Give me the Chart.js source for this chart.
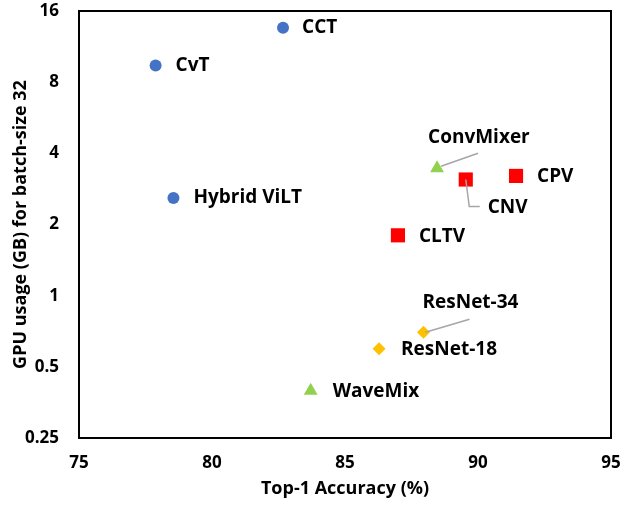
<!DOCTYPE html>
<html>
<head>
<meta charset="utf-8">
<script src="https://cdn.jsdelivr.net/npm/chart.js@4/dist/chart.umd.min.js"></script>
<style>
  body { margin: 0; background: #fff; }
  #wrap { width: 621px; height: 513px; }
</style>
</head>
<body>
<div id="wrap"><canvas id="gpu-chart"></canvas></div>
<script>
// models, accuracy (%) and GPU memory (GB)
var models   = ["CCT", "CvT", "Hybrid ViLT", "ConvMixer", "CNV", "CPV", "CLTV", "ResNet-34", "ResNet-18", "WaveMix"];
var accuracy = [82.67, 77.88, 78.55, 88.46, 89.54, 91.43, 86.99, 87.95, 86.28, 83.71];
var gpuMem   = [13.6, 9.4, 2.59, 3.46, 3.1, 3.21, 1.8, 0.70, 0.596, 0.396];
var family   = ["vit", "vit", "vit", "mixer", "ours", "ours", "ours", "cnn", "cnn", "mixer"];
var xTicks   = [75, 80, 85, 90, 95];
var yTicks   = [0.25, 0.5, 1, 2, 4, 8, 16];

var FONT = "'Open Sans', Lato, sans-serif";

// marker look per family
var styles = {
    vit:   { color: "#4472C4", shape: "circle",   r: 6 },
    ours:  { color: "#FF0000", shape: "rect",     r: 10 },
    mixer: { color: "#92D050", shape: "triangle", r: 8 },
    cnn:   { color: "#FFC000", shape: "rectRot",  r: 6.5 }
};

// label placement relative to the marker (px), with optional leader line
var labelPos = {
    "CCT":         { dx: 19, dy: 0 },
    "CvT":         { dx: 20, dy: 0 },
    "Hybrid ViLT": { dx: 20, dy: 0 },
    "ConvMixer":   { dx: -9, dy: -31, line: [[41, -15], [4, -2]] },
    "CNV":         { dx: 22, dy: 28, line: [[0, 0], [3.5, 27], [14, 27]] },
    "CPV":         { dx: 21, dy: 1 },
    "CLTV":        { dx: 21, dy: 1 },
    "ResNet-34":   { dx: -1, dy: -30, line: [[46, -13], [2, 0]] },
    "ResNet-18":   { dx: 22, dy: 1 },
    "WaveMix":     { dx: 22, dy: 1 }
};

var datasets = [];
["vit", "ours", "mixer", "cnn"].forEach(function(key) {
    var pts = [];
    models.forEach(function(m, i) {
        if (family[i] === key) pts.push({ x: accuracy[i], y: gpuMem[i], name: m });
    });
    var s = styles[key];
    datasets.push({
        data: pts,
        pointStyle: s.shape,
        pointRadius: s.r,
        pointBackgroundColor: s.color,
        pointBorderColor: s.color,
        pointBorderWidth: 0
    });
});

var labelPlugin = {
    id: "labels",
    afterDatasetsDraw: function(chart) {
        var ctx = chart.ctx;
        var a = chart.chartArea;
        ctx.save();
        ctx.strokeStyle = "#000";
        ctx.lineWidth = 2;
        ctx.strokeRect(a.left, a.top, a.right - a.left, a.bottom - a.top);

        chart.data.datasets.forEach(function(ds, di) {
            var meta = chart.getDatasetMeta(di);
            ds.data.forEach(function(p, j) {
                var el = meta.data[j];
                var pos = labelPos[p.name];
                if (pos.line) {
                    ctx.beginPath();
                    ctx.strokeStyle = "#A6A6A6";
                    ctx.lineWidth = 1.5;
                    pos.line.forEach(function(q, k) {
                        if (k === 0) ctx.moveTo(el.x + q[0], el.y + q[1]);
                        else ctx.lineTo(el.x + q[0], el.y + q[1]);
                    });
                    ctx.stroke();
                }
                ctx.fillStyle = "#000";
                ctx.font = "bold 19px " + FONT;
                ctx.textAlign = "left";
                ctx.textBaseline = "middle";
                ctx.fillText(p.name, el.x + pos.dx, el.y + pos.dy);
            });
        });
        ctx.restore();
    }
};

new Chart(document.getElementById("gpu-chart"), {
    type: "scatter",
    data: { datasets: datasets },
    plugins: [labelPlugin],
    options: {
        responsive: true,
        maintainAspectRatio: false,
        animation: false,
        layout: { padding: { top: 11, right: 10, left: 0, bottom: 0 } },
        plugins: { legend: { display: false }, tooltip: { enabled: false } },
        scales: {
            x: {
                type: "linear",
                min: 75,
                max: 95,
                afterBuildTicks: function(scale) {
                    scale.ticks = xTicks.map(function(v) { return { value: v }; });
                },
                afterFit: function(scale) {
                    scale.height = 75;
                    scale.paddingLeft = 0;
                    scale.paddingRight = 0;
                },
                grid: { display: false, drawTicks: false },
                border: { display: false },
                ticks: { padding: 15, color: "#000", font: { family: FONT, size: 17, weight: "bold" } },
                title: {
                    display: true,
                    text: "Top-1 Accuracy (%)",
                    color: "#000",
                    padding: { top: 0, bottom: 13 },
                    font: { family: FONT, size: 18, weight: "bold" }
                }
            },
            y: {
                type: "logarithmic",
                min: 0.25,
                max: 16,
                afterBuildTicks: function(scale) {
                    scale.ticks = yTicks.map(function(v) { return { value: v }; });
                },
                afterFit: function(scale) {
                    scale.width = 79;
                    scale.paddingTop = 0;
                    scale.paddingBottom = 0;
                },
                grid: { display: false, drawTicks: false },
                border: { display: false },
                ticks: {
                    padding: 20,
                    color: "#000",
                    font: { family: FONT, size: 17, weight: "bold" },
                    callback: function(v) { return String(v); }
                },
                title: {
                    display: true,
                    text: "GPU usage (GB) for batch-size 32",
                    color: "#000",
                    padding: { top: 10, bottom: 0 },
                    font: { family: FONT, size: 18, weight: "bold" }
                }
            }
        }
    }
});
</script>
</body>
</html>
